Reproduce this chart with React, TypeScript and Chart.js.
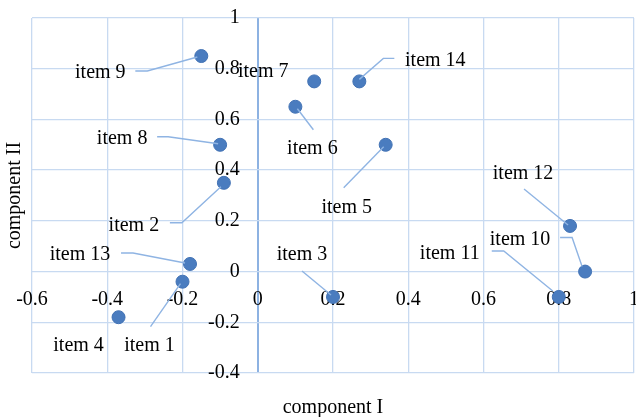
import { useEffect, useRef } from "react";
import { Chart, registerables } from "chart.js";

Chart.register(...registerables);

// ---- data ----
const itemNames = [
  "item 1", "item 2", "item 3", "item 4", "item 5", "item 6", "item 7",
  "item 8", "item 9", "item 10", "item 11", "item 12", "item 13", "item 14",
];
const componentI = [-0.2, -0.09, 0.2, -0.37, 0.34, 0.1, 0.15, -0.1, -0.15, 0.87, 0.8, 0.83, -0.18, 0.27];
const componentII = [-0.04, 0.35, -0.1, -0.18, 0.5, 0.65, 0.75, 0.5, 0.85, 0, -0.1, 0.18, 0.03, 0.75];
const xAxisTitle = "component I";
const yAxisTitle = "component II";
const xRange = [-0.6, 1];
const yRange = [-0.4, 1];
const tickStep = 0.2;

// ---- label layout (pixel offsets from each point) ----
const labelOffsets: [number, number][] = [
  [-33, 64], [-90, 43], [-31, -42], [-40, 29], [-39, 63], [17, 42], [-51, -10],
  [-98, -6], [-101, 17], [-65, -32], [-109, -43], [-47, -52], [-110, -9], [76, -21],
];
const leaderPaths: [number, number][][] = [
  [[-32, 45], [-2, 2]],
  [[-54, 40], [-42, 40], [-3, 4]],
  [[-31, -26], [-2, -2]],
  [],
  [[-42, 43], [-2, 2]],
  [[18, 23], [2, 2]],
  [],
  [[-63, -8], [-52, -8], [-2, -1]],
  [[-66, 15], [-54, 15], [-4, 1]],
  [[-25, -34], [-13, -34], [-3, -5]],
  [[-67, -46], [-55, -46], [-6, -6]],
  [[-46, -37], [-2, -1]],
  [[-69, -11], [-57, -11], [-5, -1]],
  [[35, -23], [24, -23], [0, -2]],
];

const FONT = "'Liberation Serif', 'Times New Roman', serif";
const GRID = "#c8daf1";
const AXIS = "#8db2e2";
const LEADER = "#8fb4e3";
const fmt = (v: any) => String(Math.round(Number(v) * 10) / 10);

const labelPlugin = {
  id: "itemLabels",
  afterDatasetsDraw(chart: any) {
    const ctx = chart.ctx;
    const meta = chart.getDatasetMeta(0);
    ctx.save();
    ctx.strokeStyle = LEADER;
    ctx.lineWidth = 1.4;
    meta.data.forEach((el: any, i: number) => {
      const { x, y } = el.getProps(["x", "y"], true);
      const path = leaderPaths[i];
      if (!path.length) return;
      ctx.beginPath();
      path.forEach(([dx, dy], k) => (k ? ctx.lineTo(x + dx, y + dy) : ctx.moveTo(x + dx, y + dy)));
      ctx.stroke();
    });
    ctx.fillStyle = "#000";
    ctx.font = `20px ${FONT}`;
    ctx.textAlign = "center";
    ctx.textBaseline = "middle";
    meta.data.forEach((el: any, i: number) => {
      const { x, y } = el.getProps(["x", "y"], true);
      ctx.fillText(itemNames[i], x + labelOffsets[i][0], y + labelOffsets[i][1]);
    });
    const ca = chart.chartArea;
    ctx.fillText(xAxisTitle, (ca.left + ca.right) / 2, 408);
    ctx.translate(15, (ca.top + ca.bottom) / 2);
    ctx.rotate(-Math.PI / 2);
    ctx.fillText(yAxisTitle, 0, 0);
    ctx.restore();
  },
};

export default function App() {
  const ref = useRef<HTMLCanvasElement>(null);
  useEffect(() => {
    if (!ref.current) return;
    const chart = new Chart(ref.current, {
      type: "scatter",
      data: {
        datasets: [
          {
            data: componentI.map((v, i) => ({ x: v, y: componentII[i] })),
            backgroundColor: "#4a7cbf",
            borderColor: "#4272b4",
            borderWidth: 1,
            pointRadius: 6.5,
          },
        ],
      },
      options: {
        animation: false,
        responsive: false,
        devicePixelRatio: 1,
        layout: { padding: { left: 32, top: 18, right: 26, bottom: 44 } },
        plugins: { legend: { display: false }, tooltip: { enabled: false } },
        scales: {
          x: {
            type: "linear",
            min: xRange[0],
            max: xRange[1],
            position: { y: 0 } as any,
            border: { display: false },
            grid: {
              drawTicks: false,
              color: (c: any) => (c.tick && c.tick.value === 0 ? AXIS : GRID),
              lineWidth: (c: any) => (c.tick && c.tick.value === 0 ? 2 : 1.3),
            },
            ticks: {
              stepSize: tickStep,
              padding: 16,
              color: "#000",
              font: { family: FONT, size: 20 },
              callback: fmt,
            },
            afterFit: (s: any) => {
              s.paddingLeft = 0;
              s.paddingRight = 0;
            },
          } as any,
          y: {
            type: "linear",
            min: yRange[0],
            max: yRange[1],
            position: { x: 0 } as any,
            border: { display: false },
            grid: { drawTicks: false, color: GRID, lineWidth: 1.3 },
            ticks: {
              stepSize: tickStep,
              padding: 0,
              color: "#000",
              font: { family: FONT, size: 20 },
              callback: (v: any) => fmt(v) + "\u2002\u2009\u2009",
            },
            afterFit: (s: any) => {
              s.paddingTop = 0;
              s.paddingBottom = 0;
            },
          } as any,
        },
      },
      plugins: [labelPlugin],
    });
    return () => chart.destroy();
  }, []);
  return (
    <div style={{ position: "fixed", left: 0, top: 0, width: 636, height: 417, overflow: "hidden", background: "#fff" }}>
      <canvas ref={ref} width={660} height={417} style={{ display: "block" }} />
    </div>
  );
}
